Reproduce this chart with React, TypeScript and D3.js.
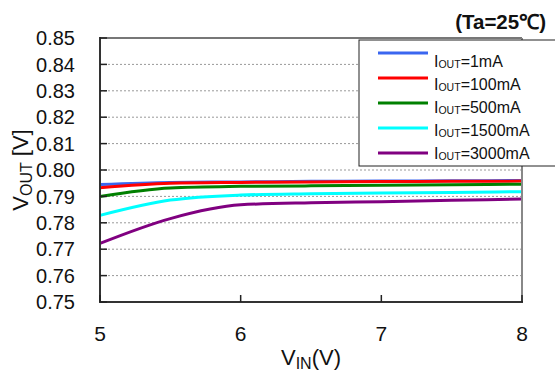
import React from "react";
import * as d3 from "d3";

const vin = [5, 5.5, 6, 6.5, 7, 7.5, 8];
const seriesNames = ["1mA", "100mA", "500mA", "1500mA", "3000mA"];
const seriesColors = ["#3a66f0", "#ff0000", "#008000", "#00ffff", "#800080"];
const vout1 = [0.7945, 0.7953, 0.7955, 0.7957, 0.7958, 0.7959, 0.796];
const vout100 = [0.7933, 0.795, 0.7953, 0.7955, 0.7956, 0.7957, 0.7958];
const vout500 = [0.79, 0.7932, 0.7938, 0.794, 0.7942, 0.7944, 0.7946];
const vout1500 = [0.7828, 0.7886, 0.7905, 0.791, 0.7913, 0.7915, 0.7918];
const vout3000 = [0.7722, 0.7816, 0.7868, 0.7876, 0.788, 0.7885, 0.789];
const yTicks = [0.75, 0.76, 0.77, 0.78, 0.79, 0.8, 0.81, 0.82, 0.83, 0.84, 0.85];
const xTicks = [5, 6, 7, 8];

export default function App() {
  const W = 555, H = 376;
  const L = 100, R = 522, T = 38, B = 302;
  const x = d3.scaleLinear().domain([5, 8]).range([L, R]);
  const y = d3.scaleLinear().domain([0.75, 0.85]).range([B, T]);
  const all = [vout1, vout100, vout500, vout1500, vout3000];
  const line = d3
    .line<[number, number]>()
    .x((d) => x(d[0]))
    .y((d) => y(d[1]))
    .curve(d3.curveMonotoneX);
  const font = "'Liberation Sans', Arial, sans-serif";
  const legX = 359, legY = 40;
  return (
    <svg
      width={W}
      height={H}
      style={{ position: "absolute", left: 0, top: 0, background: "#fff" }}
      fontFamily={font}
    >
      <rect x={0} y={0} width={W} height={H} fill="#fff" />
      {yTicks.slice(1, -1).map((t) => (
        <line
          key={"g" + t}
          x1={L}
          x2={R}
          y1={y(t)}
          y2={y(t)}
          stroke="#999"
          strokeWidth={1}
          strokeDasharray="2,2"
        />
      ))}
      {all.map((vals, i) => (
        <path
          key={"s" + i}
          d={line(vin.map((v, j) => [v, vals[j]] as [number, number])) || ""}
          fill="none"
          stroke={seriesColors[i]}
          strokeWidth={3}
        />
      ))}
      {/* frame */}
      <line x1={L} x2={R} y1={T} y2={T} stroke="#777" strokeWidth={2} />
      <line x1={R} x2={R} y1={T} y2={B} stroke="#888" strokeWidth={2} />
      <line x1={L} x2={L} y1={T - 1} y2={B + 1} stroke="#333" strokeWidth={2} />
      <line x1={L - 1} x2={R + 1} y1={B} y2={B} stroke="#333" strokeWidth={2} />
      {yTicks.map((t) => (
        <g key={"yt" + t}>
          <line x1={L} x2={L + 7} y1={y(t)} y2={y(t)} stroke="#222" strokeWidth={1.5} />
          <text
            x={75}
            y={y(t)}
            dy="0.36em"
            textAnchor="end"
            fontSize={20}
            fill="#111"
          >
            {t.toFixed(2)}
          </text>
        </g>
      ))}
      {xTicks.map((t) => (
        <g key={"xt" + t}>
          <line x1={x(t)} x2={x(t)} y1={B} y2={B - 7} stroke="#222" strokeWidth={1.5} />
          <text x={x(t)} y={341} textAnchor="middle" fontSize={21} fill="#111">
            {t}
          </text>
        </g>
      ))}
      <text x={(L + R) / 2} y={365} textAnchor="middle" fontSize={22} fill="#111">
        V<tspan fontSize={16} dy={4}>IN</tspan>
        <tspan dy={-4}>(V)</tspan>
      </text>
      <text
        transform={`translate(28,${(T + B) / 2}) rotate(-90)`}
        textAnchor="middle"
        fontSize={22}
        fill="#111"
      >
        V<tspan fontSize={16} dy={4}>OUT</tspan>
        <tspan dy={-4}> [V]</tspan>
      </text>
      <text x={546} y={29} textAnchor="end" fontSize={20.5} fontWeight="bold" fill="#111">
        (Ta=25℃)
      </text>
      {/* legend */}
      <rect x={legX} y={legY} width={210} height={126} fill="#fff" stroke="#222" strokeWidth={1} />
      {seriesNames.map((n, i) => (
        <g key={"l" + i}>
          <line
            x1={378}
            x2={428}
            y1={legY + 13 + i * 25}
            y2={legY + 13 + i * 25}
            stroke={seriesColors[i]}
            strokeWidth={3}
          />
          <text x={434} y={66.5 + i * 23.2} fontSize={16} fill="#111">
            I<tspan fontSize={10.5} dy={1}>OUT</tspan>
            <tspan dy={-1}>={n}</tspan>
          </text>
        </g>
      ))}
    </svg>
  );
}
